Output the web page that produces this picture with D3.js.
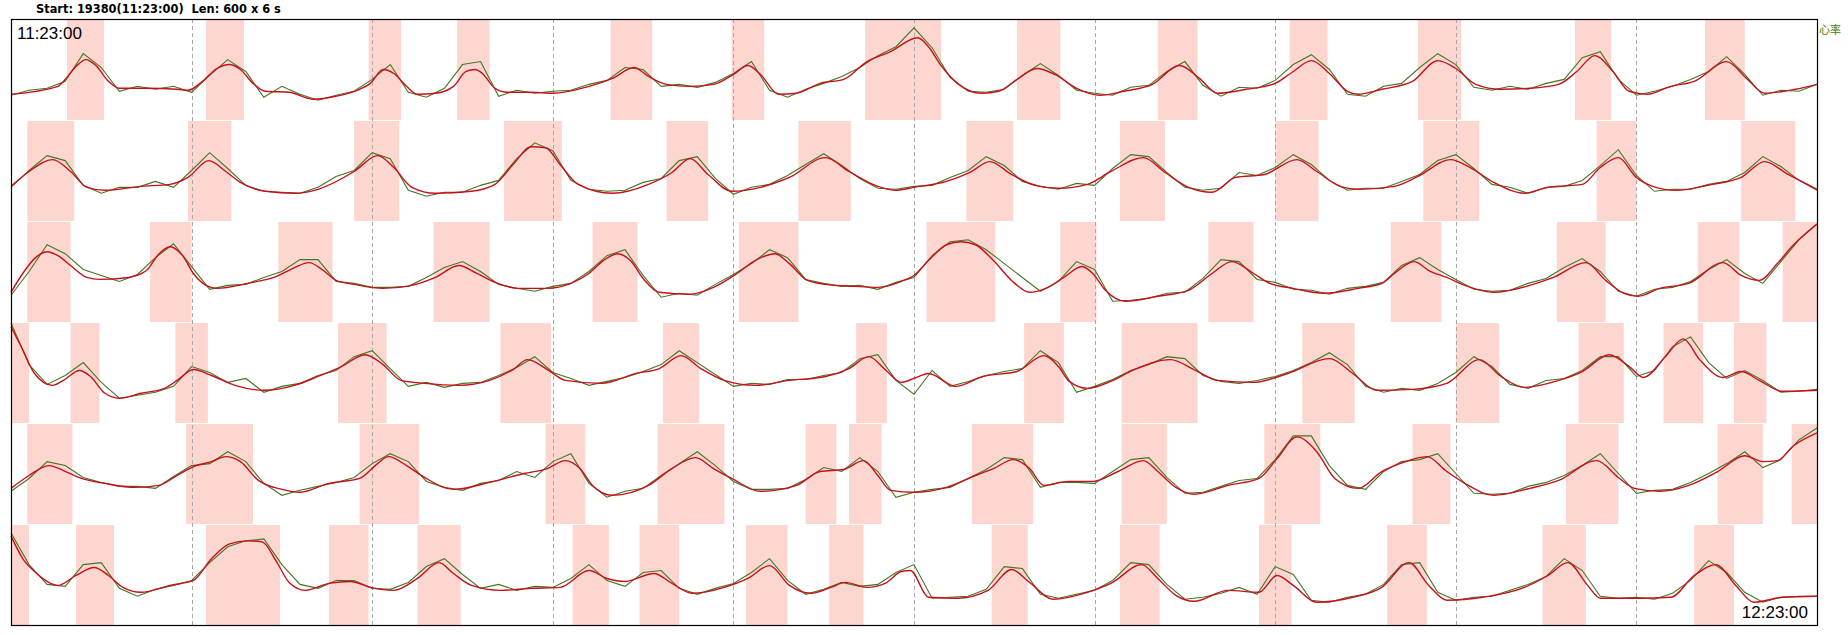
<!DOCTYPE html>
<html lang="zh">
<head>
<meta charset="utf-8">
<title>心率 11:23:00 - 12:23:00</title>
<script src="https://d3js.org/d3.v7.min.js"></script>
<style>
  html, body { margin: 0; padding: 0; background: #fff; }
  svg { display: block; }
</style>
</head>
<body>
<script>
// ---- data (minutes within each 10-minute row, value = % of row height) ----

const titleText = "Start: 19380(11:23:00)  Len: 600 x 6 s";
const startLabel = "11:23:00";
const endLabel = "12:23:00";
const seriesName = "心率";
const minuteTicks = [1, 2, 3, 4, 5, 6, 7, 8, 9];

// raw heart rate, one sample every 6 s (101 per row, 0..10 min)
const raw1 = [24,29,31,38,66,52,28,33,30,33, 27,44,60,48,22,33,25,19,24,28,
  40,55,27,22,31,55,58,23,29,26, 28,29,35,39,52,50,33,35,32,37,
  46,58,29,22,30,36,43,52,64,73, 92,72,42,28,27,30,44,56,44,29,
  26,24,32,34,48,58,34,23,32,31, 39,55,65,50,25,23,33,36,52,66,
  55,32,29,33,30,36,40,62,68,40, 24,28,33,40,48,63,45,24,29,28, 35];
const raw2 = [33,50,65,60,35,27,33,33,39,33, 50,68,52,35,29,28,27,33,44,50,
  68,62,30,24,28,28,35,40,62,78, 70,40,31,29,30,38,42,60,64,42,
  26,33,36,45,56,67,55,42,32,31, 34,35,43,50,64,55,39,34,31,37,
  35,52,66,64,48,33,30,32,48,45, 53,66,56,40,30,32,32,39,46,60,
  66,52,36,33,27,33,34,40,55,71, 45,29,31,31,36,39,48,64,54,40, 30];
const raw3 = [26,50,77,68,52,46,40,47,64,78, 55,32,36,37,44,50,62,62,40,38,
  34,34,35,44,54,60,50,37,33,30, 35,38,50,66,72,46,24,28,26,37,
  47,58,72,64,42,38,35,36,32,39, 44,66,80,82,72,58,44,30,40,60,
  52,20,21,23,28,29,43,62,60,42, 39,32,31,27,33,35,39,56,64,52,
  42,32,30,31,38,43,54,63,50,30, 25,32,34,40,52,62,48,38,60,82, 98];
const raw4 = [100,58,38,47,60,40,24,27,30,36, 56,50,40,44,30,36,39,47,52,66,
  72,54,36,40,35,39,40,47,55,66, 50,44,37,41,45,51,58,72,60,48,
  36,39,38,43,43,47,50,64,68,42, 28,52,36,41,47,51,54,72,60,30,
  36,43,52,58,66,64,47,41,39,42, 46,52,60,70,58,36,30,34,32,39,
  50,66,56,38,34,42,44,52,66,66, 46,52,76,86,60,44,52,42,30,31, 33];
const raw5 = [32,45,62,58,46,41,37,37,35,47, 58,60,72,62,40,28,33,37,41,46,
  60,70,62,42,36,33,40,43,52,46, 62,70,40,26,32,35,48,60,72,58,
  42,34,34,35,44,56,52,66,52,26, 31,34,36,45,54,66,64,36,41,41,
  40,52,64,66,46,30,31,37,43,45, 64,88,88,58,38,34,52,62,64,70,
  50,30,29,30,37,41,48,58,70,50, 30,33,34,41,50,60,72,56,64,84, 96];
const raw6 = [92,60,40,38,60,62,36,28,35,39, 44,62,78,84,86,60,40,36,44,44,
  36,35,42,58,66,50,36,40,34,38, 37,46,60,44,38,52,54,36,30,36,
  41,52,66,44,30,35,42,38,40,52, 60,26,27,28,35,58,56,30,26,30,
  34,44,62,60,40,25,27,31,37,30, 58,50,24,22,27,30,40,60,62,32,
  24,27,28,34,40,48,66,54,28,26, 27,25,31,44,64,52,32,22,27,28, 28];

// smoothed trend, [minute, value]
const smooth1 = [[0,25],[0.26,33],[0.29,38],[0.36,53],[0.415,60],[0.47,54],[0.54,38],[0.6,31],[0.75,31],[0.92,30],
  [0.98,29],[1.06,38],[1.14,51],[1.21,55],[1.27,50],[1.34,36],[1.41,28],[1.54,27],[1.67,20],[1.8,23],
  [1.93,30],[1.99,36],[2.06,50],[2.12,46],[2.19,33],[2.25,25],[2.35,26],[2.45,33],[2.52,48],[2.57,50],
  [2.61,46],[2.68,31],[2.75,27],[2.88,27],[3.0,26],[3.2,33],[3.33,41],[3.45,52],[3.53,43],[3.63,35],
  [3.76,33],[3.89,35],[4.0,45],[4.08,54],[4.15,45],[4.25,25],[4.35,26],[4.48,36],[4.61,40],[4.74,58],
  [4.87,68],[5.02,82],[5.08,73],[5.15,54],[5.24,36],[5.375,26],[5.47,28],[5.57,40],[5.68,51],[5.78,45],
  [5.9,31],[6.03,24],[6.16,28],[6.32,35],[6.47,54],[6.58,41],[6.68,26],[6.84,30],[7.0,36],[7.1,48],
  [7.2,59],[7.3,46],[7.4,28],[7.46,25],[7.59,30],[7.76,38],[7.9,59],[8.0,51],[8.11,35],[8.25,30],
  [8.41,31],[8.57,35],[8.67,48],[8.77,64],[8.87,48],[8.96,28],[9.06,25],[9.19,33],[9.32,38],[9.5,58],
  [9.61,41],[9.71,26],[9.88,30],[10,35]];
const smooth2 = [[0,34],[0.1,49],[0.23,61],[0.33,49],[0.42,33],[0.52,30],[0.72,34],[0.88,36],[0.98,43],[1.095,60],
  [1.19,49],[1.27,38],[1.41,29],[1.57,27],[1.7,31],[1.9,49],[2.03,65],[2.12,53],[2.22,33],[2.35,27],
  [2.55,29],[2.68,36],[2.78,56],[2.88,74],[2.96,73],[3.04,56],[3.14,36],[3.33,27],[3.53,36],[3.66,48],
  [3.76,62],[3.86,46],[3.99,29],[4.15,33],[4.31,43],[4.51,63],[4.64,49],[4.8,34],[4.9,30],[5.0,33],
  [5.18,39],[5.31,48],[5.42,59],[5.54,46],[5.67,35],[5.8,32],[5.96,36],[6.09,49],[6.27,63],[6.39,48],
  [6.52,33],[6.65,28],[6.78,43],[6.94,46],[7.12,61],[7.23,49],[7.36,34],[7.46,31],[7.66,34],[7.79,44],
  [7.97,61],[8.08,53],[8.21,38],[8.38,27],[8.51,33],[8.7,36],[8.8,53],[8.9,63],[9.0,43],[9.09,34],
  [9.22,30],[9.42,36],[9.58,43],[9.71,59],[9.84,46],[10,31]];
const smooth3 = [[0,29],[0.065,48],[0.13,63],[0.2,70],[0.26,66],[0.33,56],[0.42,44],[0.49,42],[0.65,44],[0.75,51],
  [0.82,68],[0.88,75],[0.95,66],[1.01,48],[1.08,36],[1.14,33],[1.31,38],[1.47,45],[1.57,54],[1.65,59],
  [1.73,51],[1.8,41],[1.9,37],[2.06,33],[2.22,36],[2.35,44],[2.48,56],[2.58,48],[2.68,39],[2.81,33],
  [2.97,33],[3.1,38],[3.2,48],[3.28,61],[3.36,68],[3.43,61],[3.5,43],[3.59,29],[3.76,27],[3.89,34],
  [4.02,48],[4.12,61],[4.23,68],[4.31,58],[4.41,41],[4.51,37],[4.67,35],[4.8,34],[4.93,40],[5.0,46],
  [5.08,61],[5.18,77],[5.26,80],[5.34,77],[5.44,61],[5.54,41],[5.64,29],[5.73,33],[5.83,44],[5.93,55],
  [5.99,48],[6.06,31],[6.17,20],[6.35,25],[6.52,31],[6.65,48],[6.76,60],[6.88,48],[6.97,38],[7.1,33],
  [7.27,28],[7.46,33],[7.59,38],[7.66,48],[7.77,60],[7.85,51],[7.95,44],[8.05,36],[8.21,29],[8.41,36],
  [8.54,44],[8.72,59],[8.83,41],[8.93,28],[9.01,25],[9.13,33],[9.29,38],[9.48,59],[9.58,46],[9.68,41],
  [9.78,58],[9.87,77],[10,98]];
const smooth4 = [[0,96],[0.065,73],[0.13,49],[0.23,37],[0.29,42],[0.38,52],[0.44,46],[0.52,29],[0.6,24],[0.72,29],
  [0.85,34],[0.92,42],[1.01,53],[1.11,47],[1.24,37],[1.4,32],[1.57,37],[1.7,46],[1.83,56],[1.96,68],
  [2.06,58],[2.16,42],[2.29,39],[2.48,37],[2.65,42],[2.78,53],[2.86,63],[2.97,53],[3.07,42],[3.27,39],
  [3.46,49],[3.59,54],[3.71,67],[3.82,54],[3.95,42],[4.12,37],[4.31,42],[4.51,46],[4.64,54],[4.75,66],
  [4.84,53],[4.93,40],[5.0,44],[5.08,49],[5.23,36],[5.38,46],[5.57,51],[5.72,67],[5.8,56],[5.86,41],
  [5.96,34],[6.09,41],[6.22,53],[6.42,63],[6.55,53],[6.68,42],[6.88,40],[7.07,49],[7.3,64],[7.43,49],
  [7.56,32],[7.76,33],[7.95,39],[8.13,63],[8.25,46],[8.38,35],[8.57,42],[8.7,51],[8.85,68],[8.96,56],
  [9.04,45],[9.16,66],[9.26,84],[9.35,63],[9.48,45],[9.58,51],[9.68,42],[9.81,31],[10,32]];
const smooth5 = [[0,35],[0.1,48],[0.21,58],[0.29,53],[0.39,45],[0.52,40],[0.69,36],[0.82,38],[0.92,48],[1.01,57],
  [1.11,62],[1.19,67],[1.27,62],[1.37,43],[1.5,34],[1.6,31],[1.76,40],[1.93,45],[2.03,60],[2.09,67],
  [2.19,58],[2.29,46],[2.45,34],[2.65,41],[2.84,50],[2.97,55],[3.07,63],[3.15,55],[3.22,38],[3.33,28],
  [3.53,38],[3.66,55],[3.79,66],[3.89,55],[3.99,45],[4.15,32],[4.35,38],[4.48,52],[4.61,54],[4.72,63],
  [4.8,48],[4.87,33],[5.0,31],[5.18,36],[5.34,48],[5.44,55],[5.55,64],[5.64,55],[5.72,38],[5.86,42],
  [5.99,42],[6.13,52],[6.27,63],[6.35,52],[6.45,36],[6.55,29],[6.74,38],[6.91,45],[7.01,65],[7.12,87],
  [7.23,72],[7.33,45],[7.46,35],[7.59,52],[7.69,60],[7.84,67],[7.95,52],[8.05,40],[8.21,28],[8.41,35],
  [8.57,43],[8.78,63],[8.9,46],[8.99,35],[9.13,32],[9.29,38],[9.45,52],[9.6,68],[9.7,62],[9.78,63],
  [9.87,78],[10,91]];
const smooth6 = [[0,89],[0.065,66],[0.13,53],[0.26,39],[0.36,49],[0.46,57],[0.54,49],[0.62,37],[0.72,32],[0.88,39],
  [1.01,44],[1.11,66],[1.21,81],[1.31,84],[1.39,83],[1.47,63],[1.54,42],[1.63,34],[1.76,41],[1.88,43],
  [1.99,37],[2.12,34],[2.25,46],[2.37,62],[2.45,51],[2.55,39],[2.71,34],[2.88,36],[3.04,37],[3.2,54],
  [3.3,46],[3.4,43],[3.56,51],[3.66,41],[3.77,31],[3.95,37],[4.08,46],[4.2,59],[4.31,39],[4.43,31],
  [4.54,37],[4.62,42],[4.74,37],[4.84,41],[4.93,53],[4.98,54],[5.08,27],[5.24,26],[5.41,34],[5.54,55],
  [5.64,42],[5.77,25],[5.96,32],[6.09,41],[6.26,60],[6.35,46],[6.45,29],[6.55,23],[6.74,34],[6.91,32],
  [7.01,49],[7.1,39],[7.23,22],[7.43,27],[7.59,37],[7.74,62],[7.85,39],[7.95,24],[8.15,27],[8.38,37],
  [8.51,49],[8.62,62],[8.73,39],[8.8,26],[9.0,26],[9.19,27],[9.32,49],[9.44,60],[9.55,39],[9.65,22],
  [9.81,27],[10,28]];

// shaded high periods, [start, end] minutes
const peaks1 = [[0.31,0.515],[1.08,1.29],[1.98,2.16],[2.47,2.65],[3.32,3.55],[3.99,4.17],[4.73,5.15],
  [5.57,5.81],[6.35,6.57],[7.08,7.29],[7.79,8.03],[8.66,8.86],[9.38,9.6]];
const peaks2 = [[0.09,0.35],[0.98,1.22],[1.9,2.15],[2.73,3.05],[3.63,3.86],[4.36,4.65],[5.29,5.55],
  [6.14,6.39],[7.0,7.24],[7.82,8.13],[8.78,9.0],[9.58,9.88]];
const peaks3 = [[0.09,0.33],[0.77,1.0],[1.48,1.78],[2.34,2.65],[3.22,3.47],[4.03,4.36],[5.07,5.45],
  [5.81,6.01],[6.63,6.88],[7.64,7.92],[8.56,8.83],[9.34,9.57],[9.81,10]];
const peaks4 = [[0,0.1],[0.33,0.49],[0.91,1.09],[1.81,2.08],[2.71,2.99],[3.61,3.81],[4.68,4.85],
  [5.61,5.83],[6.15,6.57],[7.15,7.44],[8.0,8.24],[8.68,8.93],[9.15,9.37],[9.54,9.72]];
const peaks5 = [[0.09,0.34],[0.97,1.34],[1.93,2.26],[2.96,3.18],[3.58,3.95],[4.4,4.57],[4.64,4.82],
  [5.32,5.66],[6.15,6.4],[6.94,7.25],[7.76,7.97],[8.61,8.9],[9.45,9.7],[9.86,10]];
const peaks6 = [[0,0.1],[0.36,0.57],[1.08,1.49],[1.76,1.98],[2.25,2.49],[3.11,3.31],[3.48,3.7],
  [4.07,4.3],[4.53,4.72],[5.43,5.63],[6.14,6.36],[6.91,7.09],[7.62,7.84],[8.48,8.72],[9.32,9.54]];

const rows = [
  { raw: raw1, smooth: smooth1, peaks: peaks1 },
  { raw: raw2, smooth: smooth2, peaks: peaks2 },
  { raw: raw3, smooth: smooth3, peaks: peaks3 },
  { raw: raw4, smooth: smooth4, peaks: peaks4 },
  { raw: raw5, smooth: smooth5, peaks: peaks5 },
  { raw: raw6, smooth: smooth6, peaks: peaks6 }
];

// ---- layout ----
const chartW = 1848, chartH = 635;
const plotLeft = 11, plotRight = 1817, plotTop = 19, plotBottom = 625;
const sampleStep = 0.1; // minutes (6 s)

const svg = d3.select("body").append("svg")
  .attr("width", chartW)
  .attr("height", chartH);

const x = d3.scaleLinear().domain([0, 10]).range([plotLeft, plotRight]);
const rowBand = d3.scaleBand().domain(d3.range(rows.length)).range([plotTop, plotBottom]);
const y = d3.scaleLinear().domain([0, 100]).range([rowBand.bandwidth() - 1, 1]);

// shaded peaks
rows.forEach((row, i) => {
  svg.append("g")
    .attr("transform", `translate(0,${rowBand(i)})`)
    .selectAll("rect")
    .data(row.peaks)
    .join("rect")
    .attr("x", d => x(d[0]))
    .attr("width", d => x(d[1]) - x(d[0]))
    .attr("y", 1)
    .attr("height", rowBand.bandwidth() - 1)
    .attr("fill", "#fdd6d0");
});

// minute grid
svg.append("g")
  .selectAll("line")
  .data(minuteTicks)
  .join("line")
  .attr("x1", d => Math.round(x(d)) + 0.5)
  .attr("x2", d => Math.round(x(d)) + 0.5)
  .attr("y1", plotTop)
  .attr("y2", plotBottom)
  .attr("stroke", "#a8a8a8")
  .attr("stroke-width", 1)
  .attr("stroke-dasharray", "4,3");

const rawLine = d3.line()
  .x((d, j) => x(j * sampleStep))
  .y(d => y(d));

const smoothLine = d3.line()
  .x(d => x(d[0]))
  .y(d => y(d[1]))
  .curve(d3.curveMonotoneX);

rows.forEach((row, i) => {
  const g = svg.append("g").attr("transform", `translate(0,${rowBand(i)})`);
  g.append("path")
    .attr("d", rawLine(row.raw))
    .attr("fill", "none")
    .attr("stroke", "#447521")
    .attr("stroke-width", 1.1);
  g.append("path")
    .attr("d", smoothLine(row.smooth))
    .attr("fill", "none")
    .attr("stroke", "#c8101c")
    .attr("stroke-width", 1.4);
});

// frame
svg.append("rect")
  .attr("x", plotLeft + 0.5)
  .attr("y", plotTop + 0.5)
  .attr("width", plotRight - plotLeft)
  .attr("height", plotBottom - plotTop)
  .attr("fill", "none")
  .attr("stroke", "#000")
  .attr("stroke-width", 1.2);

// texts
svg.append("text")
  .attr("x", 36)
  .attr("y", 13)
  .attr("font-family", "DejaVu Sans")
  .attr("font-weight", "bold")
  .attr("font-size", "11.4px")
  .attr("fill", "#000")
  .style("white-space", "pre")
  .text(titleText);

svg.append("text")
  .attr("x", 17)
  .attr("y", 39)
  .attr("font-family", "Liberation Sans, Arial")
  .attr("font-size", "17px")
  .attr("fill", "#000")
  .text(startLabel);

svg.append("text")
  .attr("x", 1808)
  .attr("y", 618)
  .attr("text-anchor", "end")
  .attr("font-family", "Liberation Sans, Arial")
  .attr("font-size", "17px")
  .attr("fill", "#000")
  .text(endLabel);

svg.append("text")
  .attr("x", 1819)
  .attr("y", 34)
  .attr("font-family", "Noto Sans CJK SC")
  .attr("font-size", "11px")
  .attr("fill", "#3f7a22")
  .text(seriesName);
</script>
</body>
</html>
